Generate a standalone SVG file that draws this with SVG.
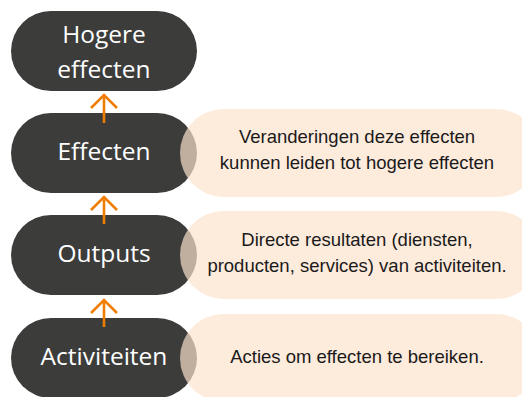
<svg xmlns="http://www.w3.org/2000/svg" width="522" height="397" viewBox="0 0 522 397">
  <defs>
    <style>
      .dark { fill: #3c3c3b; }
      .light { fill: #fce2cc; fill-opacity: 0.69; }
      .lbl { font-family: "Open Sans", "Noto Sans", sans-serif; font-size: 24.5px; fill: #ffffff; text-anchor: middle; }
      .desc { font-family: "Liberation Sans", Arial, sans-serif; font-size: 18.5px; fill: #1a1a1a; text-anchor: middle; }
      .arrow { stroke: #ef7d00; stroke-width: 2.6; fill: none; }
    </style>
  </defs>
  <rect width="522" height="397" fill="#ffffff"/>

  <g id="node-hogere">
    <rect class="dark" x="11" y="11" width="186" height="80" rx="40" ry="40"/>
    <text class="lbl" x="104" y="43">Hogere</text>
    <text class="lbl" x="104" y="78">effecten</text>
  </g>

  <g id="node-effecten">
    <rect class="dark" x="11" y="113" width="186" height="80" rx="40" ry="40"/>
    <text class="lbl" x="104" y="160">Effecten</text>
  </g>
  <g id="desc-effecten">
    <rect class="light" x="180" y="109" width="360" height="88" rx="44" ry="44"/>
    <text class="desc" x="357" y="143">Veranderingen deze effecten</text>
    <text class="desc" x="357" y="169">kunnen leiden tot hogere effecten</text>
  </g>

  <g id="node-outputs">
    <rect class="dark" x="11" y="215" width="186" height="80" rx="40" ry="40"/>
    <text class="lbl" x="104" y="262">Outputs</text>
  </g>
  <g id="desc-outputs">
    <rect class="light" x="180" y="211" width="360" height="88" rx="44" ry="44"/>
    <text class="desc" x="357" y="246">Directe resultaten (diensten,</text>
    <text class="desc" x="357" y="272">producten, services) van activiteiten.</text>
  </g>

  <g id="node-activiteiten">
    <rect class="dark" x="11" y="318" width="186" height="80" rx="40" ry="40"/>
    <text class="lbl" x="104" y="365">Activiteiten</text>
  </g>
  <g id="desc-activiteiten">
    <rect class="light" x="180" y="314" width="360" height="88" rx="44" ry="44"/>
    <text class="desc" x="357" y="363">Acties om effecten te bereiken.</text>
  </g>

  <g id="connectors">
    <path class="arrow" d="M104 123 V94 M91 108 L104 95 L117 108"/>
    <path class="arrow" d="M104 224 V196 M91 210 L104 197 L117 210"/>
    <path class="arrow" d="M104 327 V299 M91 313 L104 300 L117 313"/>
  </g>
</svg>
